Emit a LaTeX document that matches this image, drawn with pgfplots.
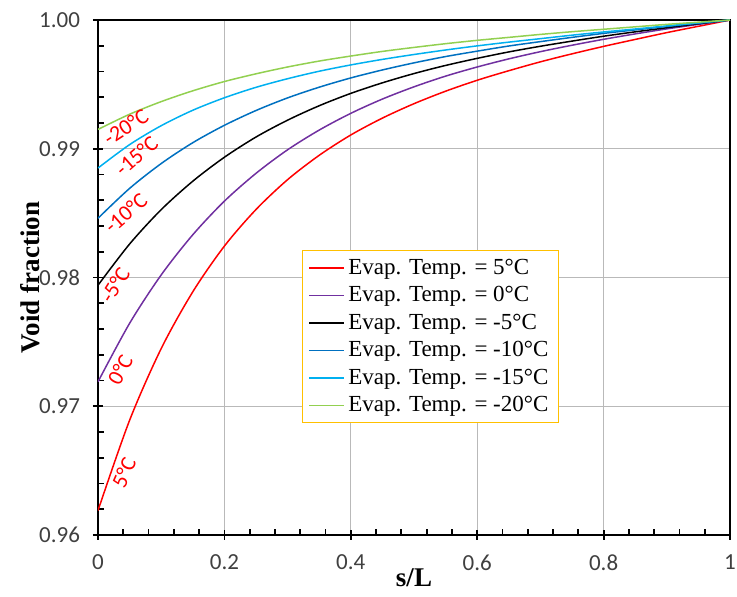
\documentclass[border=0pt]{standalone}
\usepackage{fontspec}
\setmainfont{Liberation Serif}
\newfontfamily\carlito{Carlito}
\usepackage{pgfplots}
\usepackage{pgfplotstable}
\pgfplotsset{compat=1.18}

\definecolor{cpurple}{RGB}{112,48,160}
\definecolor{cblue}{RGB}{0,112,192}
\definecolor{ccyan}{RGB}{0,176,240}
\definecolor{cgreen}{RGB}{146,208,80}
\definecolor{cgold}{RGB}{255,192,0}
\definecolor{tickgray}{RGB}{64,64,64}

% void fraction vs s/L, one column per evaporating temperature
\pgfplotstableread{
x     t5      t0      tm5     tm10    tm15    tm20
0     0.96190 0.97190 0.97940 0.98460 0.98850 0.99150
0.05  0.96891 0.97644 0.98260 0.98692 0.99032 0.99268
0.1   0.97448 0.98020 0.98527 0.98885 0.99179 0.99366
0.15  0.97889 0.98332 0.98748 0.99047 0.99299 0.99450
0.2   0.98244 0.98593 0.98934 0.99182 0.99396 0.99522
0.25  0.98528 0.98809 0.99091 0.99297 0.99477 0.99582
0.3   0.98760 0.98992 0.99222 0.99395 0.99544 0.99635
0.35  0.98949 0.99145 0.99334 0.99478 0.99602 0.99681
0.4   0.99107 0.99275 0.99430 0.99550 0.99651 0.99720
0.45  0.99238 0.99386 0.99512 0.99612 0.99694 0.99756
0.5   0.99350 0.99481 0.99584 0.99667 0.99732 0.99787
0.55  0.99447 0.99564 0.99647 0.99716 0.99767 0.99816
0.6   0.99532 0.99635 0.99702 0.99758 0.99799 0.99842
0.65  0.99606 0.99698 0.99752 0.99798 0.99828 0.99865
0.7   0.99675 0.99754 0.99796 0.99832 0.99855 0.99888
0.75  0.99737 0.99804 0.99836 0.99865 0.99882 0.99909
0.8   0.99795 0.99850 0.99874 0.99896 0.99907 0.99928
0.85  0.99849 0.99892 0.99908 0.99923 0.99930 0.99947
0.9   0.99902 0.99931 0.99940 0.99950 0.99954 0.99966
0.95  0.99951 0.99966 0.99971 0.99975 0.99978 0.99983
1     1.00000 1.00000 1.00000 1.00000 1.00000 1.00000
}\voiddata

\begin{document}
\begin{tikzpicture}
\begin{axis}[
  name=ax,
  scale only axis,
  width=316pt, height=257.5pt,
  xmin=0, xmax=1, ymin=0.96, ymax=1.0,
  xtick={0,0.2,...,1}, ytick={0.96,0.97,0.98,0.99,1.0},
  minor x tick num=4, minor y tick num=4,
  xtick pos=bottom, ytick pos=left,
  scaled y ticks=false,
  ticklabel style={font=\carlito\fontsize{11.5}{13}\selectfont, text=tickgray},
  xticklabel style={yshift=-4pt},
  yticklabel style={xshift=-3pt, /pgf/number format/.cd, fixed, fixed zerofill, precision=2},
  /pgf/number format/assume math mode=true,
  tick align=center,
  major tick length=5pt,
  minor tick length=3pt,
  minor x tick style={yshift=1.5pt},
  minor y tick style={xshift=1.5pt},
  tick style={black, line width=0.9pt},
  axis line style={black, line width=1.2pt},
  grid=major,
  major grid style={gray!55, line width=0.5pt},
  xlabel={\bfseries s/L},
  ylabel={\bfseries Void fraction},
  label style={font=\fontsize{13.5}{15}\selectfont},
  xlabel style={at={(axis description cs:0.5,-0.083)}, anchor=center},
  ylabel style={at={(axis description cs:-0.108,0.5)}, anchor=center},
  legend cell align=left,
  legend style={at={(0.323,0.553)}, anchor=north west, draw=cgold, line width=0.6pt,
    fill=white, font=\fontsize{11.5}{13}\selectfont, row sep=0.6pt,
    inner xsep=3pt, inner ysep=2pt},
  every axis plot/.append style={line width=0.75pt, no marks, smooth},
]
\addplot[red]     table[x=x,y=t5]   {\voiddata};
\addplot[cpurple] table[x=x,y=t0]   {\voiddata};
\addplot[black]   table[x=x,y=tm5]  {\voiddata};
\addplot[cblue]   table[x=x,y=tm10] {\voiddata};
\addplot[ccyan]   table[x=x,y=tm15] {\voiddata};
\addplot[cgreen]  table[x=x,y=tm20] {\voiddata};
\legend{Evap. Temp. = 5°C, Evap. Temp. = 0°C, Evap. Temp. = -5°C,
        Evap. Temp. = -10°C, Evap. Temp. = -15°C, Evap. Temp. = -20°C}

\begin{scope}[every node/.style={text=red, font=\carlito\fontsize{11}{12}\selectfont, inner sep=0pt}]
\node[rotate=33] at (axis cs:0.044,0.99169) {-20°C};
\node[rotate=41] at (axis cs:0.061,0.98944) {-15°C};
\node[rotate=41] at (axis cs:0.044,0.98501) {-10°C};
\node[rotate=58] at (axis cs:0.027,0.97942) {-5°C};
\node[rotate=62] at (axis cs:0.035,0.97282) {0°C};
\node[rotate=66] at (axis cs:0.041,0.96482) {5°C};
\end{scope}
\end{axis}
\pgfresetboundingbox
\path[use as bounding box] (ax.south west) ++(-49pt,-31pt) rectangle ++(368.5pt,298.5pt);
\end{tikzpicture}
\end{document}
